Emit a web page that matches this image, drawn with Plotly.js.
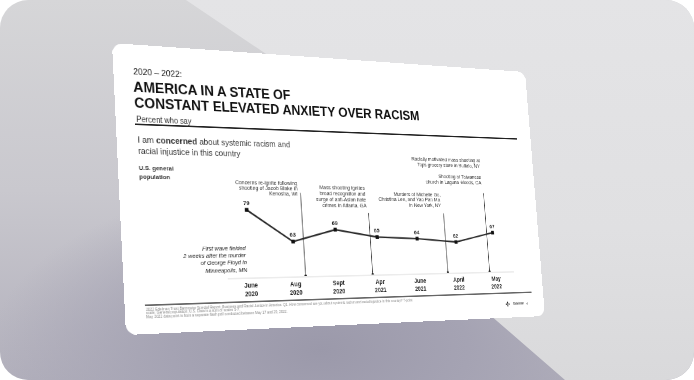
<!DOCTYPE html>
<html><head><meta charset="utf-8">
<script src="https://cdn.plot.ly/plotly-3.0.1.min.js"></script>
<style>
html,body{margin:0;padding:0;background:#ffffff;width:694px;height:380px;overflow:hidden}
#frame{position:absolute;left:0;top:0;width:694px;height:380px;border-radius:28px;overflow:hidden;background:linear-gradient(180deg,#d6d6d8 0%,#c9c8ce 50%,#b2b0bc 100%)}
#dark{position:absolute;left:0;top:0;width:694px;height:380px;
 background:radial-gradient(ellipse 330px 170px at 320px 350px,#9b99aa 0%,#a5a3b3 45%,rgba(180,178,190,0) 100%)}
#light{position:absolute;left:0;top:0;width:694px;height:380px;
 clip-path:polygon(186px 0,694px 0,694px 380px,565px 380px,475px 302px,275px 60px);
 background:linear-gradient(180deg,#e4e4e6 0%,#e0e0e2 60%,#d9d9db 100%)}
#slide{position:absolute;left:0;top:0;width:640px;height:360px;background:#fff;border-radius:14px;overflow:hidden;transform-origin:0 0}
#chart{width:640px;height:360px}
</style></head>
<body>
<div id="frame"><div id="dark"></div><div id="light"></div>
<div id="slide"><div id="chart"></div></div></div>
<script>
// ---------- data ----------
const categories = ['June<br>2020','Aug<br>2020','Sept<br>2020','Apr<br>2021','June<br>2021','April<br>2022','May<br>2022'];
const concerned = [79, 63, 69, 65, 64, 62, 67];
const eventPos = [1.24, 2.83, 4.73, 5.84];
const eventTexts = [
  ['Concerns re-ignite following','shooting of Jacob Blake in','Kenosha, WI'],
  ['Mass shooting ignites','broad recognition and','surge of anti-Asian hate','crimes in Atlanta, GA'],
  ['Murders of Michelle Go,','Christina Lee, and Yao Pan Ma','in New York, NY'],
  ['Racially motivated mass shooting at','Tops grocery store in Buffalo, NY','','Shooting at Taiwanese','church in Laguna Woods, CA']
];
const firstWave = ['First wave fielded','2 weeks after the murder','of George Floyd in','Minneapolis, MN'];
const footnotes = [
 '2022 Edelman Trust Barometer Special Report: Business and Racial Justice in America. Q1. How concerned are you about systemic racism and racial injustice in this country? 7-point',
 'scale; General population; U.S. Data is a sum of scales 5-7.',
 'May 2022 data point is from a separate flash poll conducted between May 17 and 20, 2022.'
];

// ---------- layout geometry (slide px) ----------
const W = 640, H = 360, ML = 139, MR = 50, MT = 130, MB = 66;
const PW = W - ML - MR, PH = H - MT - MB;
const Y0 = 45.41, Y1 = 108.95;
const px = x => (x - ML) / PW;
const py = y => (H - MB - y) / PH;
const NARROW = '"Liberation Sans Narrow","Arial Narrow","Liberation Sans",Arial,sans-serif';
const SANS = '"Liberation Sans",Arial,sans-serif';
const ann = [];
function txt(t, x, y, o) {
  o = o || {};
  ann.push({xref:'paper', yref:'paper', x:px(x), y:py(y), text:t, showarrow:false,
    xanchor:o.a||'left', yanchor:'middle', borderpad:0,
    font:{family:o.f||SANS, size:o.s||10, color:o.c||'#1e1e1e', weight:o.w||400, style:o.i?'italic':'normal'}});
}
function block(lines, x, ys, o) { lines.forEach((l,i)=>{ if(l) txt(l, x, ys[i], o); }); }

txt('2020 – 2022:', 25, 34, {f:NARROW, s:11.2, c:'#151515'});
txt('AMERICA IN A STATE OF', 24, 53, {s:18.5, w:700, c:'#111'});
txt('CONSTANT ELEVATED ANXIETY OVER RACISM', 24, 74, {s:18.5, w:700, c:'#111'});
txt('Percent who say', 25.5, 94, {s:10, c:'#333'});
txt('I am <b>concerned</b> about systemic racism and', 26, 119.5, {s:11, c:'#333'});
txt('racial injustice in this country', 26, 134, {s:11, c:'#333'});
txt('U.S. general', 26, 155.5, {s:8, w:700, c:'#333'});
txt('population', 26, 166, {s:8, w:700, c:'#333'});
block(firstWave, 168, [256.6, 265.7, 274.9, 284], {f:NARROW, s:7.8, i:true, a:'right', c:'#222'});
const evRight = [248, 352, 474, 546];
const evYs = [[171,178.2,185.5],[176.3,184.2,192.1,200],[184,191.9,199.8],[134.9,142.5,0,158,166]];
eventTexts.forEach((ls,k)=>block(ls, evRight[k], evYs[k], {f:NARROW, s:7.3, a:'right', c:'#333'}));
footnotes.forEach((l,i)=>txt(l, 26, 330 + i*4.8, {s:4.8, c:'#8a8a8a'}));
txt('<b>Edelman</b>', 584, 340.5, {s:4.5, c:'#444'});
txt('✣', 580, 340.5, {s:9, c:'#222', a:'right'});
txt('4', 607, 340.5, {s:5, c:'#444'});

const evTop = [87.9, 77.6, 77.7, 88.9];
const shapes = [
  {type:'line', xref:'paper', yref:'paper', x0:px(25), x1:px(615), y0:py(101), y1:py(101), line:{color:'#222', width:1.8}},
  {type:'line', xref:'paper', yref:'paper', x0:px(26), x1:px(619), y0:py(325), y1:py(325), line:{color:'#333', width:1.6}}
];
eventPos.forEach((e,k)=>shapes.push({type:'line', xref:'x', yref:'y', x0:e, x1:e, y0:Y0, y1:evTop[k], line:{color:'#222', width:0.9}}));

const idx = categories.map((c,i)=>i);
const traces = [
  {x:idx, y:concerned, type:'scatter', mode:'lines+markers+text', text:concerned.map(String),
   textposition:'top center', textfont:{family:NARROW, size:8, color:'#222', weight:700},
   line:{color:'#2a2a2a', width:2.2}, marker:{symbol:'square', size:5, color:'#111'}, cliponaxis:false, hoverinfo:'skip'},
  {x:eventPos, y:eventPos.map(()=>Y0), type:'scatter', mode:'markers', marker:{size:4, color:'#111'}, cliponaxis:false, hoverinfo:'skip'}
];
const layout = {
  width:W, height:H, margin:{l:ML, r:MR, t:MT, b:MB}, showlegend:false,
  paper_bgcolor:'#ffffff', plot_bgcolor:'#ffffff',
  xaxis:{range:[-0.5,6.5], tickvals:idx, ticktext:categories, showgrid:false, zeroline:false,
    showline:true, linecolor:'#ececec', linewidth:1.5, ticks:'', ticklabelstandoff:2,
    tickfont:{family:NARROW, size:8.3, color:'#222', weight:700}, fixedrange:true},
  yaxis:{range:[Y0,Y1], showgrid:false, zeroline:false, showticklabels:false, showline:false, fixedrange:true},
  annotations:ann, shapes:shapes
};
Plotly.newPlot('chart', traces, layout, {staticPlot:true, displayModeBar:false});

// ---------- perspective: map slide rectangle onto the photographed quad ----------
(function(){
  const q = [[112,43],[525,72],[545,316],[126,335]];
  const [x0,y0]=q[0],[x1,y1]=q[1],[x2,y2]=q[2],[x3,y3]=q[3];
  const dx1=x1-x2, dx2=x3-x2, dx3=x0-x1+x2-x3, dy1=y1-y2, dy2=y3-y2, dy3=y0-y1+y2-y3;
  const det=dx1*dy2-dx2*dy1;
  const g=(dx3*dy2-dx2*dy3)/det, h=(dx1*dy3-dx3*dy1)/det;
  const a=x1-x0+g*x1, b=x3-x0+h*x3, c=x0, d=y1-y0+g*y1, e=y3-y0+h*y3, f=y0;
  const m=[a/W, d/W, 0, g/W, b/H, e/H, 0, h/H, 0,0,1,0, c, f, 0, 1];
  document.getElementById('slide').style.transform='matrix3d('+m.join(',')+')';
})();
</script>
</body></html>
